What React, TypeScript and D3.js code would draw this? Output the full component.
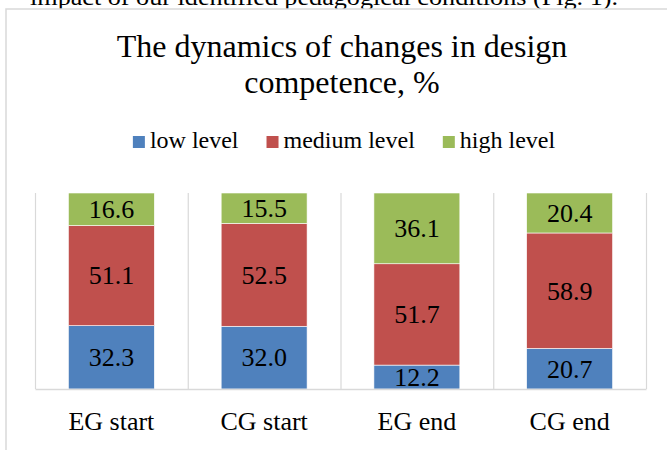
import React, { useEffect, useRef } from "react";
import * as d3 from "d3";

const categories = ["EG start", "CG start", "EG end", "CG end"];
const seriesNames = ["low level", "medium level", "high level"];
const lowValues = [32.3, 32.0, 12.2, 20.7];
const mediumValues = [51.1, 52.5, 51.7, 58.9];
const highValues = [16.6, 15.5, 36.1, 20.4];
const seriesColors = ["#4F81BD", "#C0504D", "#9BBB59"];
const titleLines = ["The dynamics of changes in design", "competence, %"];

const FONT = "'Liberation Serif', 'Times New Roman', serif";

const App = () => {
  const chartRef = useRef<SVGSVGElement>(null);

  useEffect(() => {
    const svg = d3.select(chartRef.current);
    svg.selectAll("*").remove();

    const width = 667;
    const height = 450;
    const margin = { top: 193, right: 21, bottom: 61, left: 35 };

    // text of the page above the figure, cut off
    svg
      .append("text")
      .attr("x", 30)
      .attr("y", 5)
      .attr("textLength", 588)
      .attr("lengthAdjust", "spacingAndGlyphs")
      .style("font-family", FONT)
      .style("font-size", "24px")
      .attr("fill", "#000")
      .text("impact of our identified pedagogical conditions (Fig. 1).");

    // chart frame
    svg
      .append("rect")
      .attr("x", 6)
      .attr("y", 9)
      .attr("width", 700)
      .attr("height", 500)
      .attr("fill", "#fff")
      .attr("stroke", "#d9d9d9")
      .attr("stroke-width", 1.5);

    // Title
    svg
      .append("text")
      .attr("text-anchor", "middle")
      .style("font-family", FONT)
      .style("font-size", "32px")
      .attr("fill", "#000")
      .selectAll("tspan")
      .data(titleLines)
      .enter()
      .append("tspan")
      .attr("x", 342)
      .attr("y", (d, i) => 57 + i * 36)
      .text((d) => d);

    // Legend
    const legend = svg.append("g");
    let lx = 0;
    seriesNames.forEach((name, i) => {
      const item = legend.append("g").attr("transform", `translate(${lx},0)`);
      item
        .append("rect")
        .attr("x", 0)
        .attr("y", -12)
        .attr("width", 12)
        .attr("height", 12)
        .attr("fill", seriesColors[i]);
      const t = item
        .append("text")
        .attr("x", 17)
        .attr("y", 0)
        .style("font-family", FONT)
        .style("font-size", "24px")
        .attr("fill", "#000")
        .text(name);
      const w = (t.node() as SVGTextElement).getComputedTextLength();
      lx += 17 + w + 28;
    });
    const legendWidth = lx - 28;
    legend.attr("transform", `translate(${344 - legendWidth / 2},148)`);

    // Process data
    const rows = categories.map((c, i) => ({
      category: c,
      low: lowValues[i],
      medium: mediumValues[i],
      high: highValues[i],
    }));
    const keys = ["low", "medium", "high"];
    const stacked = d3.stack<any>().keys(keys)(rows);

    const x = d3
      .scaleBand()
      .domain(categories)
      .range([margin.left, width - margin.right])
      .paddingInner(0.4375)
      .paddingOuter(0.21875);

    const band = d3
      .scaleBand()
      .domain(categories)
      .range([margin.left, width - margin.right]);

    const y = d3
      .scaleLinear()
      .domain([0, 100])
      .range([height - margin.bottom, margin.top]);

    // vertical gridlines between categories
    const edges = categories.map((c) => band(c) as number);
    edges.push(width - margin.right);
    svg
      .append("g")
      .selectAll("line")
      .data(edges)
      .enter()
      .append("line")
      .attr("x1", (d) => d + 0.5)
      .attr("x2", (d) => d + 0.5)
      .attr("y1", y(100))
      .attr("y2", y(0))
      .attr("stroke", "#d9d9d9")
      .attr("stroke-width", 1.2);

    // Bars
    const layers = svg
      .append("g")
      .selectAll("g")
      .data(stacked)
      .enter()
      .append("g")
      .attr("fill", (d, i) => seriesColors[i]);

    layers
      .selectAll("rect")
      .data((d) => d)
      .enter()
      .append("rect")
      .attr("x", (d: any) => x(d.data.category) as number)
      .attr("y", (d) => y(d[1]))
      .attr("width", x.bandwidth())
      .attr("height", (d) => y(d[0]) - y(d[1]))
      .attr("stroke", "#fff")
      .attr("stroke-width", 0.6);

    // Data labels
    layers
      .selectAll("text")
      .data((d) => d)
      .enter()
      .append("text")
      .attr("x", (d: any) => (x(d.data.category) as number) + x.bandwidth() / 2)
      .attr("y", (d) => (y(d[0]) + y(d[1])) / 2)
      .attr("dy", "0.34em")
      .attr("text-anchor", "middle")
      .style("font-family", FONT)
      .style("font-size", "26px")
      .attr("fill", "#000")
      .text((d) => (d[1] - d[0]).toFixed(1));

    // X axis
    const xAxis = svg
      .append("g")
      .attr("transform", `translate(0, ${height - margin.bottom})`)
      .call(d3.axisBottom(band).tickSize(0).tickPadding(23));
    xAxis.select(".domain").attr("stroke", "#d9d9d9").attr("stroke-width", 1.5);
    xAxis
      .selectAll("text")
      .style("font-family", FONT)
      .style("font-size", "26px")
      .attr("fill", "#000");
  }, []);

  return (
    <svg
      ref={chartRef}
      width={667}
      height={450}
      style={{ position: "absolute", left: 0, top: 0, background: "#fff" }}
    />
  );
};

export default App;
